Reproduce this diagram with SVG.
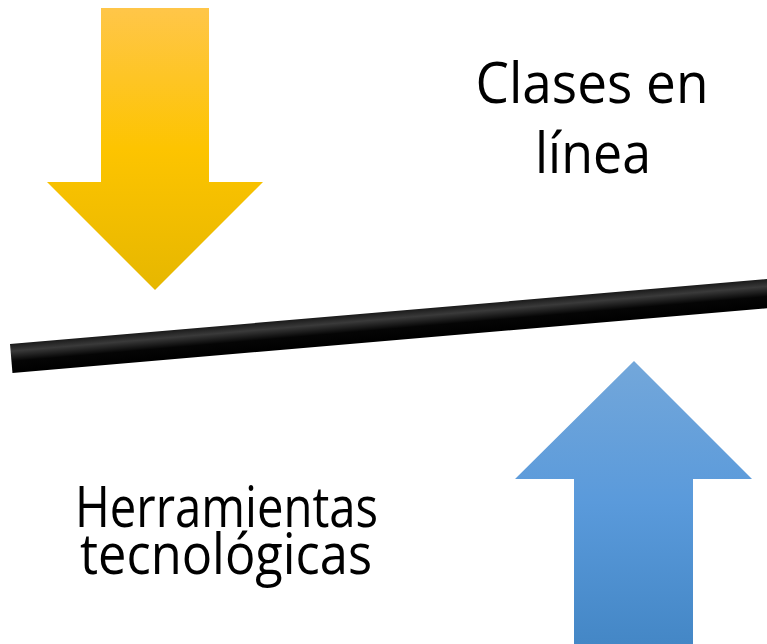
<svg xmlns="http://www.w3.org/2000/svg" width="767" height="644" viewBox="0 0 767 644">
<defs>
<linearGradient id="gy" x1="0" y1="0" x2="0" y2="1">
<stop offset="0" stop-color="#FFC649"/>
<stop offset="0.5" stop-color="#FDC400"/>
<stop offset="1" stop-color="#E6B700"/>
</linearGradient>
<linearGradient id="gb" x1="0" y1="0" x2="0" y2="1">
<stop offset="0" stop-color="#73A7DA"/>
<stop offset="0.5" stop-color="#5A9ADB"/>
<stop offset="1" stop-color="#4487C6"/>
</linearGradient>
<linearGradient id="gk" x1="0" y1="0" x2="0" y2="1">
<stop offset="0" stop-color="#1a1a1a"/>
<stop offset="0.25" stop-color="#3a3a3a"/>
<stop offset="0.6" stop-color="#050505"/>
<stop offset="1" stop-color="#000"/>
</linearGradient>
<style>
.t{font-family:"Open Sans","Liberation Sans",sans-serif;font-size:57px;fill:#000;text-anchor:middle}
</style>
</defs>
<g id="arrow-down">
<polygon points="101,8 209,8 209,182 263,182 155,290 47,182 101,182" fill="url(#gy)"/>
</g>
<g id="bar">
<g transform="translate(10,344) rotate(-4.9)">
<rect x="0" y="0" width="762" height="29" fill="url(#gk)"/>
</g>
</g>
<g id="arrow-up">
<polygon points="634,361 752,479 693,479 693,644 574,644 574,479 515,479" fill="url(#gb)"/>
</g>
<g id="label-clases">
<text class="t" x="592" y="103" textLength="233" lengthAdjust="spacingAndGlyphs">Clases en</text>
<text class="t" x="593" y="173" textLength="116" lengthAdjust="spacingAndGlyphs">línea</text>
</g>
<g id="label-herramientas">
<text class="t" x="226.5" y="527" textLength="303" lengthAdjust="spacingAndGlyphs">Herramientas</text>
<text class="t" x="226" y="574" textLength="292" lengthAdjust="spacingAndGlyphs">tecnológicas</text>
</g>
</svg>
